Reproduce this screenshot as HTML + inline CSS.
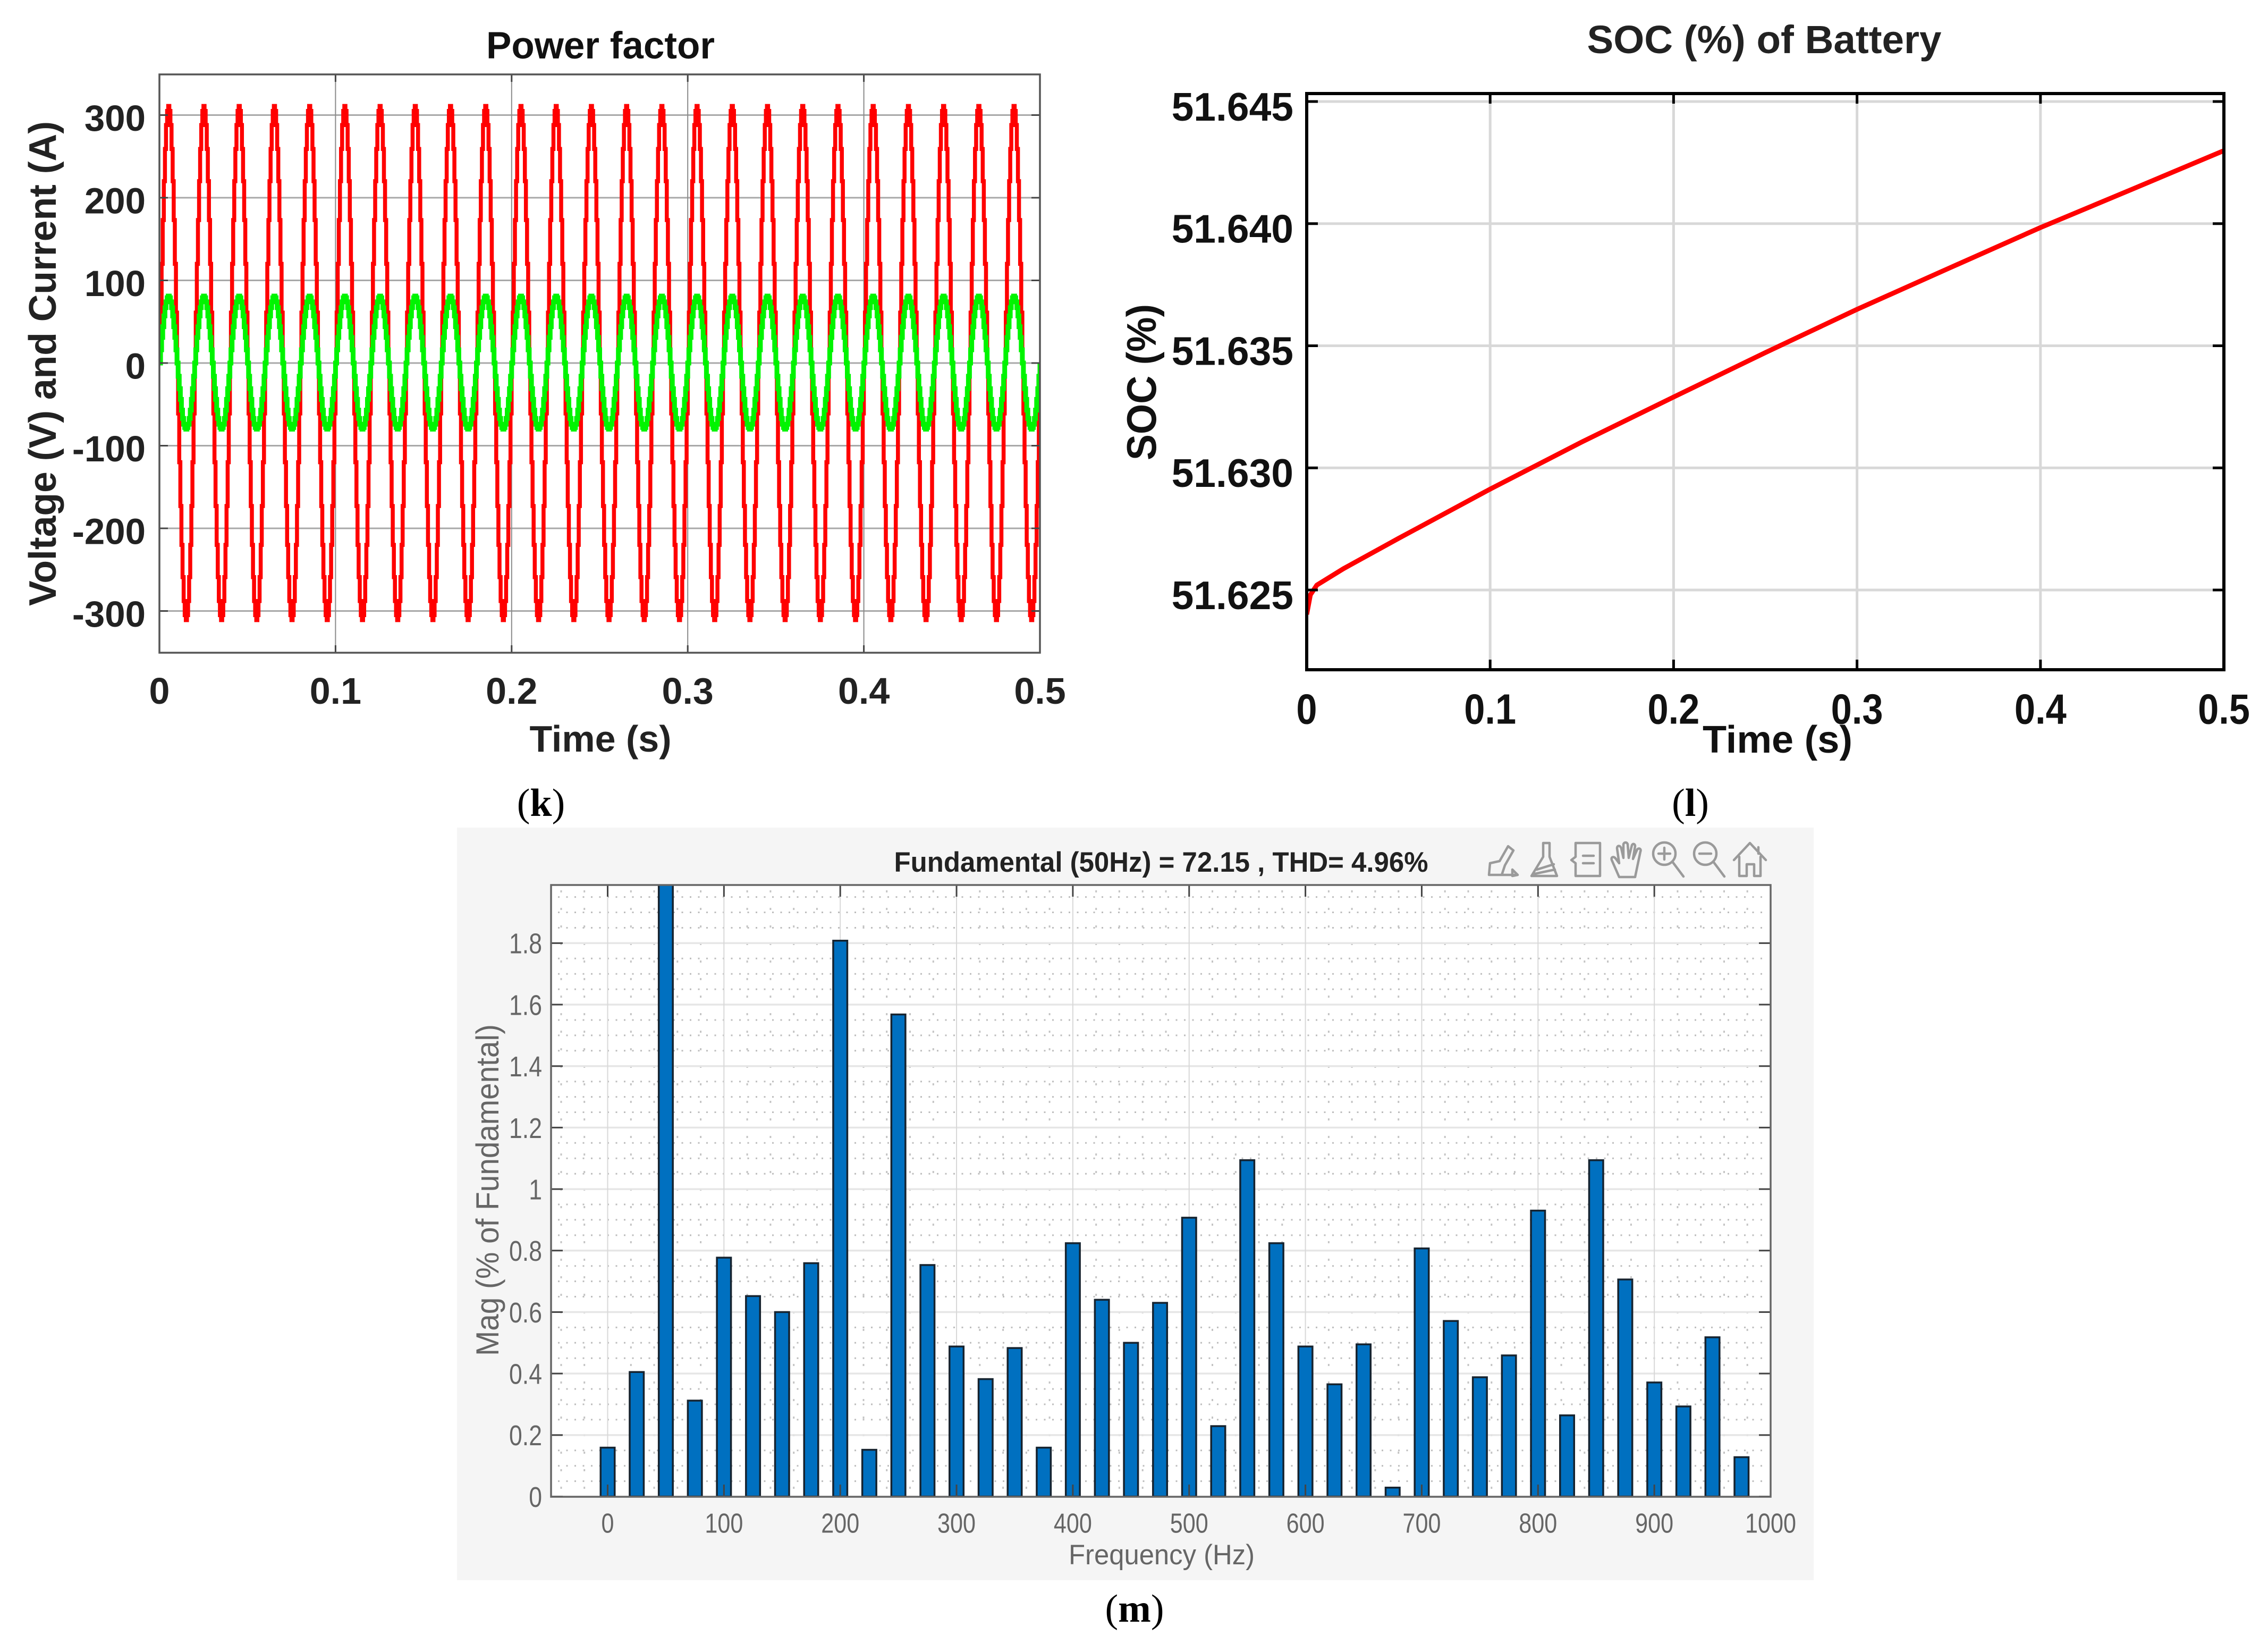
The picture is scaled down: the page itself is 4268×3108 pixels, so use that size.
<!DOCTYPE html>
<html lang="en">
<head>
<meta charset="utf-8">
<title>Power factor, SOC of battery and FFT spectrum</title>
<style>
html,body{margin:0;padding:0;background:#fff;}
svg{display:block;font-family:"Liberation Sans",sans-serif;}
.serif{font-family:"Liberation Serif",serif;}
</style>
</head>
<body>
<svg id="figure" xmlns="http://www.w3.org/2000/svg" width="4268" height="3108" viewBox="0 0 4268 3108">
  <defs>
    <clipPath id="k-clip"><rect x="300" y="140" width="1657" height="1088"/></clipPath>
    <clipPath id="l-clip"><rect x="2459" y="176" width="1726" height="1084"/></clipPath>
    <clipPath id="m-clip"><rect x="1037" y="1665" width="2295" height="1151"/></clipPath>
  </defs>
  <rect width="4268" height="3108" fill="#fff"/>

  <g id="chart-k">
    <rect x="300" y="140" width="1657" height="1088" fill="#fff"/>
    <g id="k-grid"></g>
    <g id="k-lines" clip-path="url(#k-clip)"></g>
    <g id="k-axes"></g>
    <rect x="300" y="140" width="1657" height="1088" fill="none" stroke="#555" stroke-width="3.5"/>
    <text x="1130" y="110" font-size="71" font-weight="700" text-anchor="middle" fill="#111">Power factor</text>
    <text x="1130" y="1414" font-size="70" font-weight="700" text-anchor="middle" fill="#222">Time (s)</text>
    <text transform="translate(105,684) rotate(-90)" font-size="72" font-weight="700" text-anchor="middle" fill="#222" textLength="912" lengthAdjust="spacingAndGlyphs">Voltage (V) and Current (A)</text>
    <text class="serif" x="1018" y="1535" font-size="74" font-weight="700" text-anchor="middle" fill="#000"><tspan font-weight="400">(</tspan>k<tspan font-weight="400">)</tspan></text>
  </g>

  <g id="chart-l">
    <g id="l-grid"></g>
    <g id="l-lines" clip-path="url(#l-clip)"></g>
    <g id="l-axes"></g>
    <rect x="2459" y="176" width="1726" height="1084" fill="none" stroke="#000" stroke-width="6"/>
    <text x="3320" y="100" font-size="74" font-weight="700" text-anchor="middle" fill="#222" textLength="667" lengthAdjust="spacingAndGlyphs">SOC (%) of Battery</text>
    <text x="3345" y="1416" font-size="72" font-weight="700" text-anchor="middle" fill="#111" textLength="282" lengthAdjust="spacingAndGlyphs">Time (s)</text>
    <text transform="translate(2175,719) rotate(-90)" font-size="78" font-weight="700" text-anchor="middle" fill="#111" textLength="294" lengthAdjust="spacingAndGlyphs">SOC (%)</text>
    <text class="serif" x="3181" y="1535" font-size="74" font-weight="700" text-anchor="middle" fill="#000"><tspan font-weight="400">(</tspan>l<tspan font-weight="400">)</tspan></text>
  </g>

  <g id="chart-m">
    <rect x="860" y="1557" width="2553" height="1416" fill="#f5f5f5"/>
    <rect x="1037" y="1665" width="2295" height="1151" fill="#fff"/>
    <g id="m-grid"></g>
    <g id="m-bars" clip-path="url(#m-clip)"></g>
    <g id="m-axes"></g>
    <rect x="1037" y="1665" width="2295" height="1151" fill="none" stroke="#666" stroke-width="3.5"/>
    <text x="2185" y="1640" font-size="53" font-weight="700" text-anchor="middle" fill="#222" textLength="1005" lengthAdjust="spacingAndGlyphs">Fundamental (50Hz) = 72.15 , THD= 4.96%</text>
    <text x="2186" y="2943" font-size="53" text-anchor="middle" fill="#666" textLength="350" lengthAdjust="spacingAndGlyphs">Frequency (Hz)</text>
    <text transform="translate(938,2239) rotate(-90)" font-size="60" text-anchor="middle" fill="#666" textLength="624" lengthAdjust="spacingAndGlyphs">Mag (% of Fundamental)</text>
    <text class="serif" x="2135" y="3051" font-size="74" font-weight="700" text-anchor="middle" fill="#000"><tspan font-weight="400">(</tspan>m<tspan font-weight="400">)</tspan></text>

    <g fill="none" stroke="#9a9a9a" stroke-width="4.5" stroke-linecap="round" stroke-linejoin="round">
      <g transform="translate(2828,1618)">
        <path d="M-24 28 H26 M-26 28 L-24 6 L-6 2 L10 -26 L20 -18 L4 10 L-2 28 M18 18 L28 28 L18 30 Z"/>
      </g>
      <g transform="translate(2908,1618)">
        <path d="M-4 -32 H8 V-6 L22 30 H-26 L-4 -6 Z M-16 18 L16 8 M-20 26 L18 18"/>
      </g>
      <g transform="translate(2985,1618)">
        <path d="M-20 -32 H26 V30 H-20 V6 L-28 0 L-20 -6 Z M-6 -8 H14 M-6 6 H14"/>
      </g>
      <g transform="translate(3061,1618)">
        <path d="M-14 32 L-28 0 C-30 -6 -24 -8 -20 -2 L-14 6 L-18 -22 C-18 -28 -12 -28 -10 -22 L-6 -4 L-6 -30 C-4 -34 0 -34 2 -30 L4 -4 L10 -28 C12 -32 16 -30 16 -26 L12 -2 L20 -20 C24 -24 28 -20 26 -16 L16 32 Z"/>
      </g>
      <g transform="translate(3138,1618)">
        <circle cx="-6" cy="-12" r="21"/><path d="M9 3 L30 31 M-6 -23 V-1 M-17 -12 H5"/>
      </g>
      <g transform="translate(3215,1618)">
        <circle cx="-6" cy="-12" r="21"/><path d="M9 3 L30 31 M-17 -12 H5"/>
      </g>
      <g transform="translate(3293,1618)">
        <path d="M-30 0 L0 -32 L30 0 M-20 -6 V30 H-6 V8 H8 V30 H20 V-6 M16 -24 V-12"/>
      </g>
    </g>
  </g>
</svg>

<script>
// ----- Panel (k): power factor -----
const kTimeTicks = [0, 0.1, 0.2, 0.3, 0.4, 0.5];
const kTimeTickLabels = ['0', '0.1', '0.2', '0.3', '0.4', '0.5'];
const kValueTicks = [300, 200, 100, 0, -100, -200, -300];
const kValueTickLabels = ['300', '200', '100', '0', '-100', '-200', '-300'];
const kCycleDuration = 0.02;
const kCycleCount = 25;
const kVoltageCycle = [0, 61, 120, 173, 220, 259, 288, 305, 311, 305, 288, 259, 220, 173, 120, 61, 0, -61, -120, -173, -220, -259, -288, -305, -311, -305, -288, -259, -220, -173, -120, -61];
const kCurrentCycle = [0, 16, 31, 44, 57, 67, 74, 79, 81, 79, 74, 67, 57, 44, 31, 16, 0, -16, -31, -44, -57, -67, -74, -78, -80, -78, -74, -67, -57, -44, -31, -16];

// ----- Panel (l): battery SOC -----
const lTimeTicks = [0, 0.1, 0.2, 0.3, 0.4, 0.5];
const lTimeTickLabels = ['0', '0.1', '0.2', '0.3', '0.4', '0.5'];
const lSocTicks = [51.625, 51.63, 51.635, 51.64, 51.645];
const lSocTickLabels = ['51.625', '51.630', '51.635', '51.640', '51.645'];
const lTimes = [0, 0.002, 0.0055, 0.02, 0.05, 0.1, 0.15, 0.2, 0.25, 0.3, 0.35, 0.4, 0.45, 0.5];
const lSoc = [51.6240, 51.6248, 51.6252, 51.62587, 51.62711, 51.62913, 51.63106, 51.6329, 51.63472, 51.63649, 51.63817, 51.63984, 51.64141, 51.64299];

// ----- Panel (m): harmonic spectrum -----
const mFrequencies = [0, 25, 50, 75, 100, 125, 150, 175, 200, 225, 250, 275, 300, 325, 350, 375, 400, 425, 450, 475, 500, 525, 550, 575, 600, 625, 650, 675, 700, 725, 750, 775, 800, 825, 850, 875, 900, 925, 950, 975];
const mMagnitudes = [0.159, 0.405, 2.05, 0.312, 0.777, 0.652, 0.6, 0.759, 1.808, 0.152, 1.568, 0.753, 0.488, 0.382, 0.483, 0.159, 0.824, 0.64, 0.5, 0.63, 0.907, 0.229, 1.094, 0.824, 0.488, 0.365, 0.495, 0.029, 0.807, 0.571, 0.388, 0.459, 0.93, 0.264, 1.094, 0.706, 0.371, 0.293, 0.518, 0.128];
const mFreqTicks = [0, 100, 200, 300, 400, 500, 600, 700, 800, 900, 1000];
const mFreqTickLabels = ['0', '100', '200', '300', '400', '500', '600', '700', '800', '900', '1000'];
const mMagTicks = [0, 0.2, 0.4, 0.6, 0.8, 1, 1.2, 1.4, 1.6, 1.8];
const mMagTickLabels = ['0', '0.2', '0.4', '0.6', '0.8', '1', '1.2', '1.4', '1.6', '1.8'];

// ----- Axis functions -----
function kX(t) { return 300 + t / 0.5 * 1657; }
function kY(v) { return 683 - v * 1.555; }
function lX(t) { return 2459 + t / 0.5 * 1726; }
function lY(v) { return 1110 - (v - 51.625) / 0.005 * 229.75; }
function mX(f) { return 1143.5 + f * 2.1885; }
function mY(v) { return 2815.5 - v * 578.4; }

// ----- Helpers -----
const NS = 'http://www.w3.org/2000/svg';
function add(parent, tag, attrs) {
  const el = document.createElementNS(NS, tag);
  for (const key in attrs) el.setAttribute(key, attrs[key]);
  parent.appendChild(el);
  return el;
}
function digitsWidth(str) {
  let em = 0;
  for (const ch of str) em += ch === '.' ? 0.278 : ch === '-' ? 0.333 : 0.556;
  return em;
}
function addLabel(parent, str, x, yc, size, weight, fill, anchor, squeeze) {
  const attrs = { x: x, y: yc + size * 0.358, 'font-size': size, 'font-weight': weight, fill: fill, 'text-anchor': anchor };
  const el = add(parent, 'text', attrs);
  if (squeeze !== 1) {
    el.setAttribute('textLength', digitsWidth(str) * size * squeeze);
    el.setAttribute('lengthAdjust', 'spacingAndGlyphs');
  }
  el.textContent = str;
  return el;
}
function addLine(parent, x1, y1, x2, y2, stroke, width) {
  return add(parent, 'line', { x1: x1, y1: y1, x2: x2, y2: y2, stroke: stroke, 'stroke-width': width });
}
function cyclePath(cycle, xFn, yFn) {
  const dt = kCycleDuration / cycle.length;
  let d = 'M' + xFn(0) + ' ' + yFn(0);
  for (let c = 0; c < kCycleCount; c++) {
    for (let i = 0; i < cycle.length; i++) {
      const t = c * kCycleDuration + i * dt;
      d += 'H' + xFn(t).toFixed(1) + 'V' + yFn(cycle[i]).toFixed(1);
    }
  }
  d += 'H' + xFn(kCycleCount * kCycleDuration).toFixed(1) + 'V' + yFn(0).toFixed(1);
  return d;
}

// ----- Draw panel (k) -----
const kGrid = document.getElementById('k-grid');
const kAxes = document.getElementById('k-axes');
const kLines = document.getElementById('k-lines');
kValueTicks.forEach(function (v, i) {
  const grid = addLine(kGrid, 300, kY(v), 1957, kY(v), '#a8a8a8', 3);
  
  
  const tick = addLine(kAxes, 300, kY(v), 316, kY(v), '#444', 3);
  
  
  const tickRight = addLine(kAxes, 1941, kY(v), 1957, kY(v), '#444', 3);
  
  
  const label = addLabel(kAxes, kValueTickLabels[i], 274, kY(v) + 5, 69, 700, '#222', 'end', 1);
  
  
});
kTimeTicks.forEach(function (t, i) {
  const grid = addLine(kGrid, kX(t), 140, kX(t), 1228, '#8a8a8a', 2);
  
  
  const tick = addLine(kAxes, kX(t), 140, kX(t), 154, '#444', 3);
  
  
  const tickBottom = addLine(kAxes, kX(t), 1214, kX(t), 1228, '#444', 3);
  
  
  const label = addLabel(kAxes, kTimeTickLabels[i], kX(t), 1299, 70, 700, '#222', 'middle', 1);
  
  
});
const voltageLine = add(kLines, 'path', { d: cyclePath(kVoltageCycle, kX, kY), fill: 'none', stroke: '#ff0000', 'stroke-width': 7.5, 'stroke-linejoin': 'miter' });


const currentLine = add(kLines, 'path', { d: cyclePath(kCurrentCycle, kX, kY), fill: 'none', stroke: '#00f400', 'stroke-width': 9, 'stroke-linejoin': 'miter' });



// ----- Draw panel (l) -----
const lGrid = document.getElementById('l-grid');
const lAxes = document.getElementById('l-axes');
const lLines = document.getElementById('l-lines');
lSocTicks.forEach(function (v, i) {
  const grid = addLine(lGrid, 2459, lY(v), 4185, lY(v), '#d8d8d8', 5);
  
  
  const tickLeft = addLine(lAxes, 2459, lY(v), 2480, lY(v), '#000', 5);
  
  
  const tickRight = addLine(lAxes, 4164, lY(v), 4185, lY(v), '#000', 5);
  
  
  const label = addLabel(lAxes, lSocTickLabels[i], 2434, lY(v) + 9, 75, 700, '#111', 'end', 1);
  
  
});
lTimeTicks.forEach(function (t, i) {
  const grid = addLine(lGrid, lX(t), 176, lX(t), 1260, '#d8d8d8', 5);
  
  
  const tickBottom = addLine(lAxes, lX(t), 1241, lX(t), 1260, '#000', 5);
  
  
  const tickTop = addLine(lAxes, lX(t), 176, lX(t), 195, '#000', 5);
  
  
  const label = addLabel(lAxes, lTimeTickLabels[i], lX(t), 1333, 80, 700, '#111', 'middle', 0.88);
  
  
});
let socPath = '';
lTimes.forEach(function (t, i) {
  socPath += (i === 0 ? 'M' : 'L') + lX(t).toFixed(1) + ' ' + lY(lSoc[i]).toFixed(1);
});
const socLine = add(lLines, 'path', { d: socPath, fill: 'none', stroke: '#ff0000', 'stroke-width': 9, 'stroke-linejoin': 'round' });



// ----- Draw panel (m) -----
const mGrid = document.getElementById('m-grid');
const mBars = document.getElementById('m-bars');
const mAxes = document.getElementById('m-axes');
let minorH = '';
for (let k = 1; k * 0.05 < 1.99; k++) {
  if (k % 4 !== 0) minorH += 'M1050 ' + mY(k * 0.05).toFixed(1) + 'H3325';
}
let minorV = '';
for (let f = -40; f < 1000; f += 20) {
  if (f % 100 !== 0) minorV += 'M' + mX(f).toFixed(1) + ' 1675V2815';
}
const minorRows = add(mGrid, 'path', { d: minorH, fill: 'none', stroke: '#bdbdbd', 'stroke-width': 3, 'stroke-dasharray': '3 12.5' });


const minorCols = add(mGrid, 'path', { d: minorV, fill: 'none', stroke: '#c4c4c4', 'stroke-width': 3, 'stroke-dasharray': '4 29' });


mMagTicks.forEach(function (v, i) {
  const grid = addLine(mGrid, 1037, mY(v), 3332, mY(v), '#e6e6e6', 3.5);
  
  
  const tickLeft = addLine(mAxes, 1037, mY(v), 1059, mY(v), '#444', 3);
  
  
  const tickRight = addLine(mAxes, 3310, mY(v), 3332, mY(v), '#444', 3);
  
  
  const label = addLabel(mAxes, mMagTickLabels[i], 1020, mY(v), 54, 400, '#666', 'end', 0.826);
  
  
});
mFreqTicks.forEach(function (f, i) {
  const grid = addLine(mGrid, mX(f), 1665, mX(f), 2815, '#d8d8d8', 2);
  
  
  const tickTop = addLine(mAxes, mX(f), 1665, mX(f), 1687, '#444', 3);
  
  
  const tickBottom = addLine(mAxes, mX(f), 2793, mX(f), 2815, '#444', 3);
  
  
  const label = addLabel(mAxes, mFreqTickLabels[i], mX(f), 2865, 52, 400, '#666', 'middle', 0.83);
  
  
});
mFrequencies.forEach(function (f, i) {
  const bar = add(mBars, 'rect', {
    x: mX(f) - 13.25,
    y: mY(mMagnitudes[i]),
    width: 26.5,
    height: mY(0) - mY(mMagnitudes[i]),
    fill: '#0070c0',
    stroke: '#16232f',
    'stroke-width': 3.5
  });
  
  
});
</script>
</body>
</html>
